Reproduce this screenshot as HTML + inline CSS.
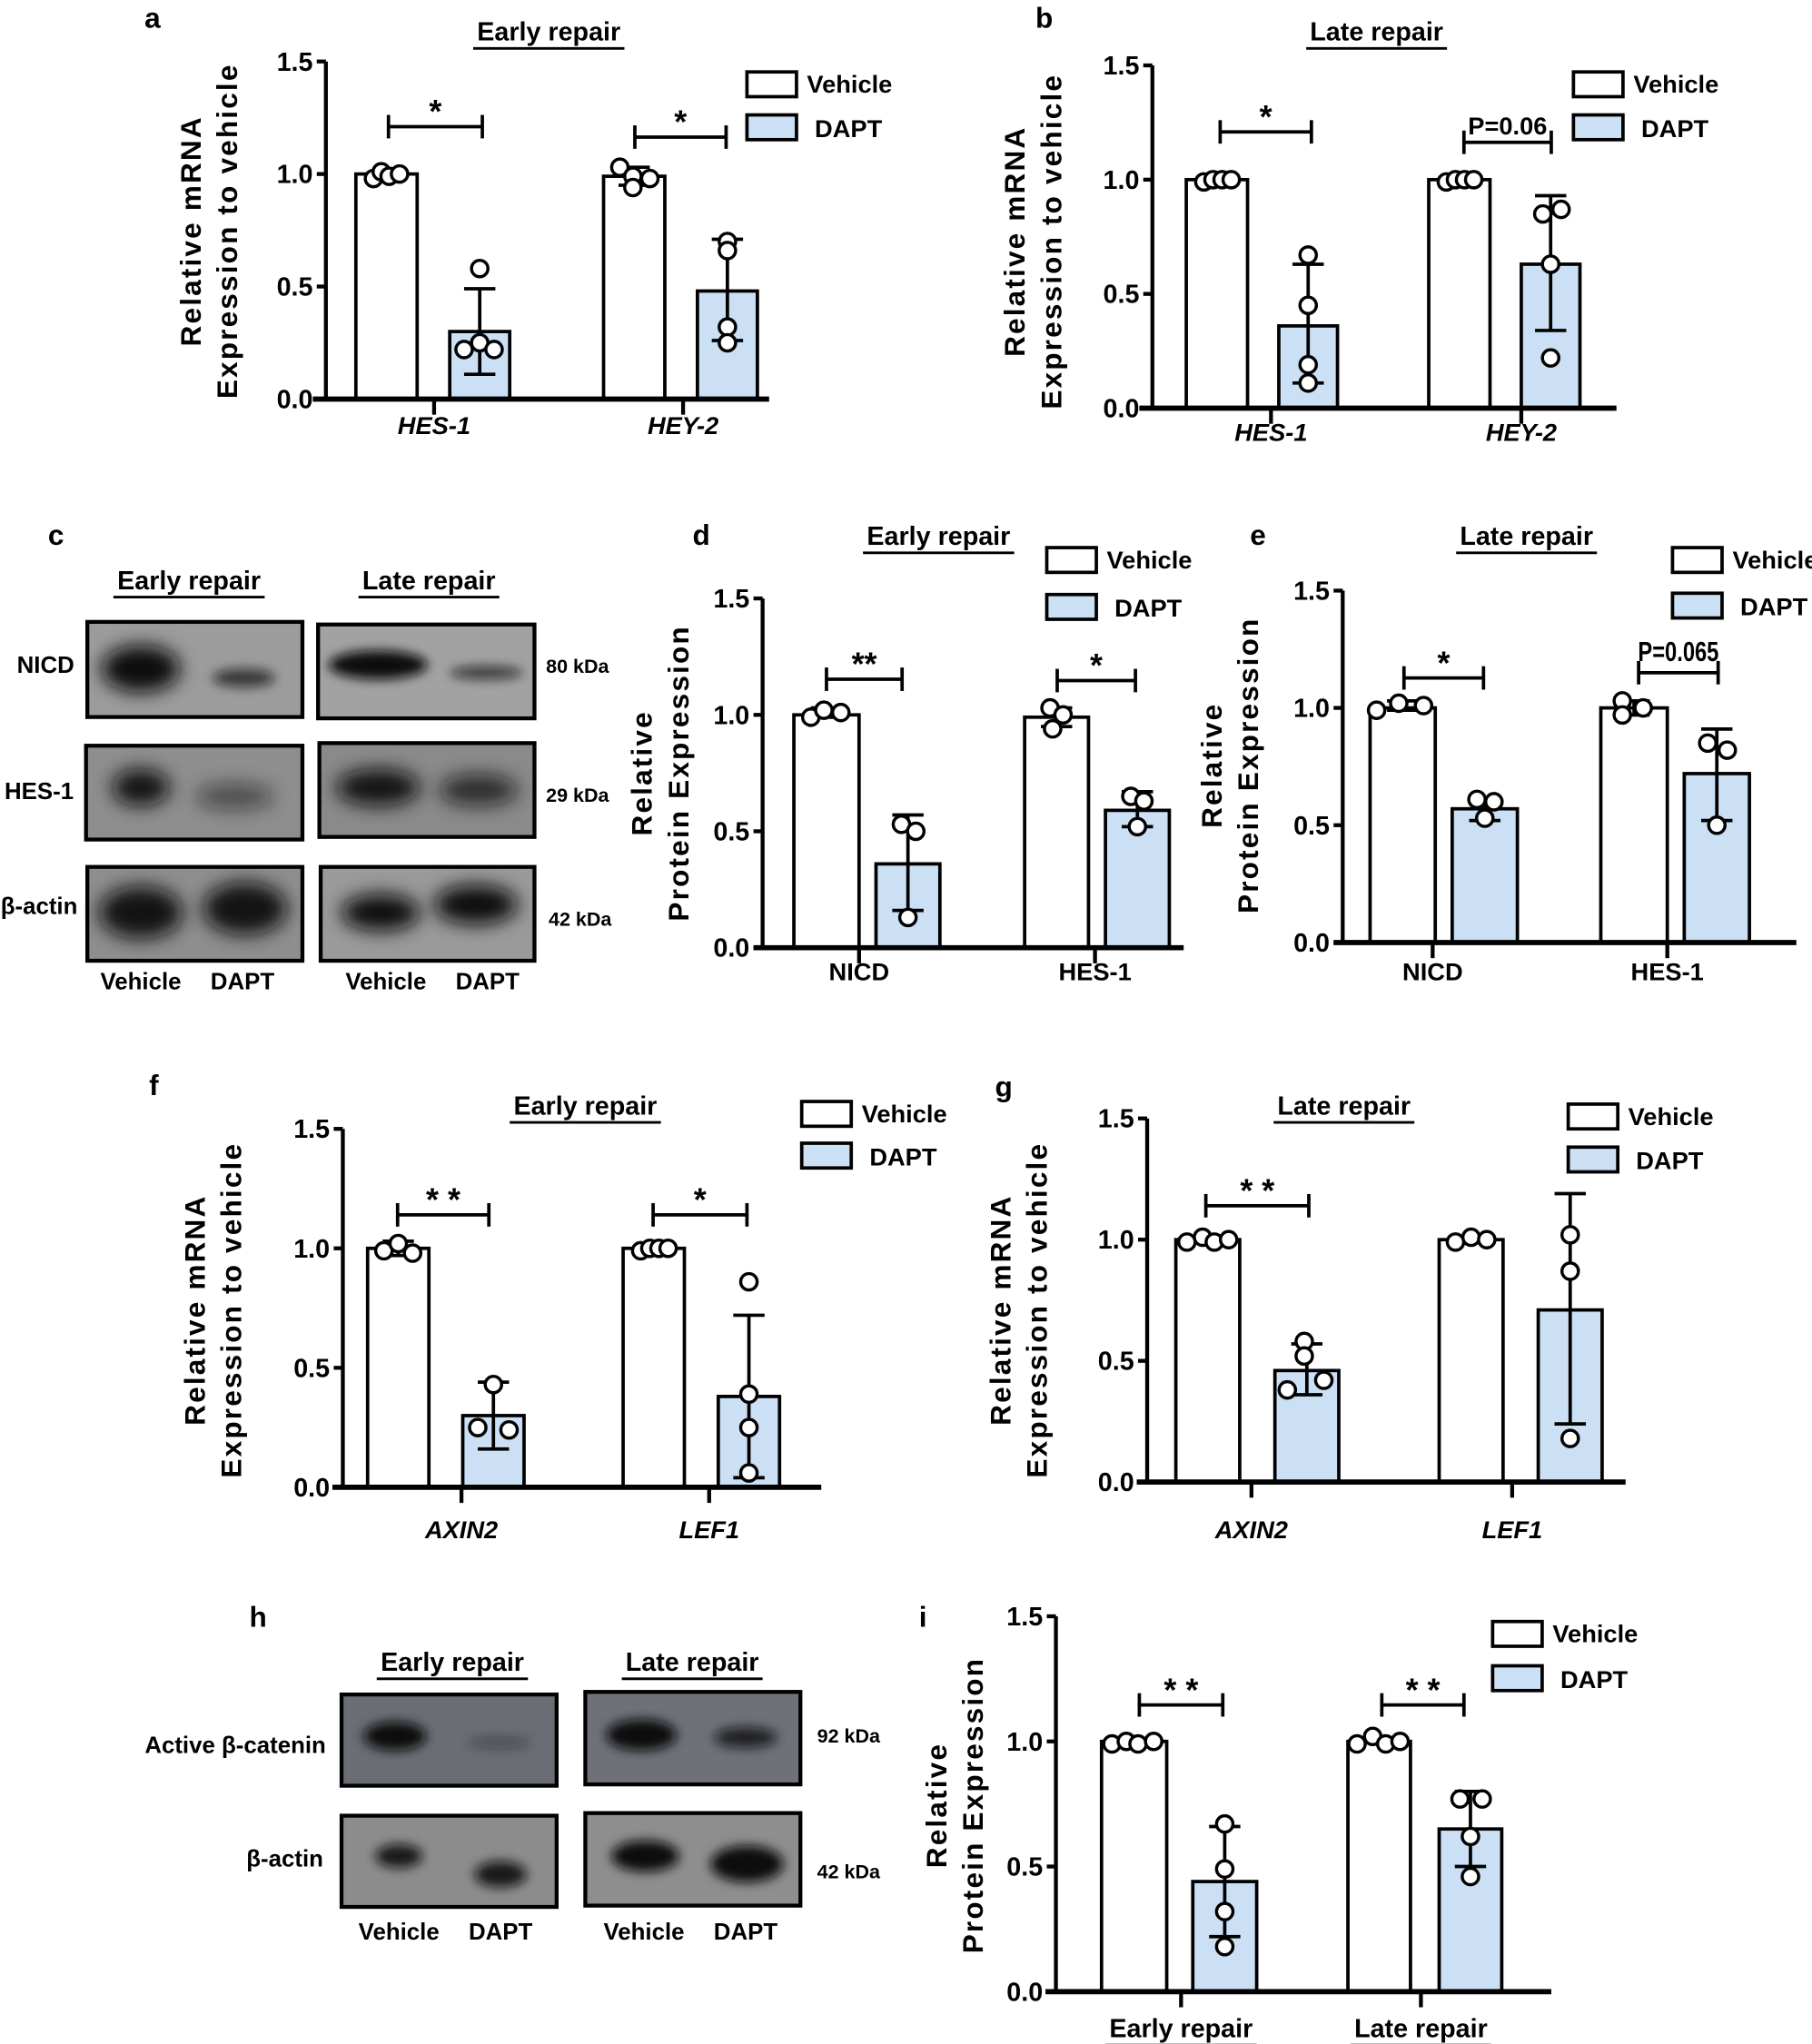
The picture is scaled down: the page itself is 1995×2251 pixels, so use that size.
<!DOCTYPE html>
<html><head><meta charset="utf-8">
<style>
html,body{margin:0;padding:0;background:#fff;}
svg{display:block;}
text{font-family:"Liberation Sans",Arial,sans-serif;font-weight:bold;fill:#000;}
</style></head>
<body>
<svg id="s" width="1995" height="2251" viewBox="0 0 1390 1568" xmlns="http://www.w3.org/2000/svg">
<defs>
<filter id="bl" x="-50%" y="-100%" width="200%" height="300%"><feGaussianBlur stdDeviation="7"/></filter>
<filter id="bl2" x="-50%" y="-100%" width="200%" height="300%"><feGaussianBlur stdDeviation="4"/></filter>
</defs>
</svg>
<script>
const S=document.getElementById('s');let h='';
const BLUE='#cce0f5';
function t(x,y,s,sz,o){o=o||{};h+=`<text x="${x}" y="${y}" font-size="${sz}" text-anchor="${o.a||'middle'}" ${o.i?'font-style="italic"':''} ${o.n?'font-weight="normal"':''} ${o.r?`transform="rotate(-90 ${x} ${y})"`:''} ${o.ls?`letter-spacing="${o.ls}"`:''} ${o.sx?`textLength="${o.sx}" lengthAdjust="spacingAndGlyphs"`:''}>${s}</text>`;}
function L(x1,y1,x2,y2,w){h+=`<line x1="${x1}" y1="${y1}" x2="${x2}" y2="${y2}" stroke="#000" stroke-width="${w||2.6}"/>`;}
function R(x,y,w,hh,f){h+=`<rect x="${x}" y="${y}" width="${w}" height="${hh}" fill="${f}" stroke="#000" stroke-width="2.6"/>`;}
function C(x,y){h+=`<circle cx="${x}" cy="${y}" r="6.3" fill="#fff" stroke="#000" stroke-width="2.4"/>`;}
function title(x,y,s,w){t(x,y,s,20,{});L(x-w/2,y+6,x+w/2,y+6,2);}
function panel(p){
 const Y=v=>p.y0-(p.y0-p.y15)*v/1.5;
 L(p.ax,p.y15,p.ax,p.y0+1,3);
 [0,0.5,1,1.5].forEach(v=>{L(p.ax-7,Y(v),p.ax,Y(v),3);t(p.ax-10,Y(v)+7,v.toFixed(1),20,{a:'end'});});
 p.bars.forEach(b=>{
  R(b.x,Y(b.v),b.w,Y(0)-Y(b.v),b.f?BLUE:'#fff');
  const cx=b.x+b.w/2;
  if(b.e){L(cx,Y(b.e[0]),cx,Y(b.e[1]),2.6);L(cx-12,Y(b.e[0]),cx+12,Y(b.e[0]),2.6);L(cx-12,Y(b.e[1]),cx+12,Y(b.e[1]),2.6);}
  (b.p||[]).forEach(q=>C(cx+q[0],Y(q[1])));
 });
 L(p.bx0,p.y0,p.bx1,p.y0,4);
 p.xt.forEach(q=>{L(q[0],p.y0,q[0],p.y0+12,3);t(q[0],p.xly,q[1],19,{i:p.it});});
 p.sig.forEach(s=>{L(s[0],s[2],s[1],s[2],2.6);L(s[0],s[2]-9,s[0],s[2]+9,2.6);L(s[1],s[2]-9,s[1],s[2]+9,2.6);
   if(s[3].startsWith('P=0.065'))t((s[0]+s[1])/2,s[2]-9,s[3],21,{n:1,sx:62});
   else if(s[3].startsWith('P='))t((s[0]+s[1])/2,s[2]-6,s[3],19,{});
   else t((s[0]+s[1])/2,s[2]-3,s[3],25,{});});
 R(p.lx,p.ly1,38,19,'#fff');R(p.lx,p.ly2,38,19,BLUE);
 t(p.lx+46,p.ly1+16,'Vehicle',19,{a:'start'});t(p.lx+52,p.ly2+17,'DAPT',19,{a:'start'});
 t(p.yl[0],p.yl[2],p.yl[3],22,{r:1,ls:1.5});t(p.yl[1],p.yl[2],p.yl[4],22,{r:1,ls:1.5});
}
// a
t(117,21,'a',22);title(421,31,'Early repair',116);
panel({ax:250,y15:47,y0:306,bx0:240,bx1:590,it:1,xly:333,
 bars:[{x:273,w:47,v:1.0,p:[[-10,0.98],[-4,1.01],[2,0.99],[10,1.0]]},{x:345,w:46,v:0.30,f:1,e:[0.11,0.49],p:[[0,0.58],[-12,0.22],[0,0.25],[11,0.22]]},
  {x:463,w:47,v:0.99,e:[0.95,1.03],p:[[-11,1.03],[-1,0.99],[-1,0.94],[12,0.98]]},{x:535,w:46,v:0.48,f:1,e:[0.26,0.71],p:[[0,0.70],[0,0.66],[0,0.32],[0,0.25]]}],
 xt:[[333,'HES-1'],[524,'HEY-2']],sig:[[298,370,97,'*'],[487,557,105,'*']],
 lx:573,ly1:55,ly2:88,yl:[154,182,177,'Relative mRNA','Expression to vehicle']});
// b
t(801,21,'b',22);title(1056,31,'Late repair',108);
panel({ax:884,y15:50,y0:313,bx0:874,bx1:1240,it:1,xly:338,
 bars:[{x:910,w:47,v:1.0,p:[[-10,0.99],[-3,1.0],[4,1.0],[11,1.0]]},{x:981,w:45,v:0.36,f:1,e:[0.11,0.63],p:[[0,0.67],[0,0.45],[0,0.19],[0,0.11]]},
  {x:1096,w:47,v:1.0,p:[[-10,0.99],[-3,1.0],[4,1.0],[11,1.0]]},{x:1167,w:45,v:0.63,f:1,e:[0.34,0.93],p:[[-6,0.85],[8,0.87],[0,0.63],[0,0.22]]}],
 xt:[[975,'HES-1'],[1167,'HEY-2']],sig:[[936,1006,101,'*'],[1123,1190,109,'P=0.06']],
 lx:1207,ly1:55,ly2:88,yl:[786,814,185,'Relative mRNA','Expression to vehicle']});
// c blots
t(43,418,'c',22);title(145,452,'Early repair',116);title(329,452,'Late repair',108);
function blot(x,y,w,hh,bg,bands){h+=`<rect x="${x}" y="${y}" width="${w}" height="${hh}" fill="${bg}" stroke="#000" stroke-width="3"/>`;
 bands.forEach(b=>{h+=`<ellipse cx="${b[0]}" cy="${b[1]}" rx="${b[2]}" ry="${b[3]}" fill="#111" opacity="${b[4]}" filter="url(#${b[5]||'bl'})"/>`;});}
blot(67,477,165,73,'#9c9c9c',[[108,513,30,18,1],[187,520,24,7,0.7,'bl2']]);
blot(244,479,166,72,'#a2a2a2',[[290,510,38,11,1,'bl2'],[373,516,28,5,0.7,'bl2']]);
blot(66,572,166,72,'#8e8e8e',[[108,604,22,14,0.95],[180,611,30,10,0.5]]);
blot(245,570,165,72,'#8a8a8a',[[290,604,32,14,0.95],[367,606,30,12,0.75]]);
blot(67,665,165,72,'#8e8e8e',[[108,700,32,20,0.95],[188,697,32,20,0.95]]);
blot(246,665,164,72,'#9a9a9a',[[292,700,30,14,1],[365,694,32,15,1]]);
t(35,516,'NICD',18);t(30,613,'HES-1',18);t(30,701,'β-actin',18);
t(443,516,'80 kDa',15);t(443,615,'29 kDa',15);t(445,710,'42 kDa',15);
t(108,759,'Vehicle',18);t(186,759,'DAPT',18);t(296,759,'Vehicle',18);t(374,759,'DAPT',18);
// d
t(538,418,'d',22);title(720,418,'Early repair',116);
panel({ax:585,y15:459,y0:727,bx0:578,bx1:908,xly:752,
 bars:[{x:609,w:50,v:1.0,e:[0.99,1.03],p:[[-12,0.99],[-2,1.02],[11,1.01]]},{x:672,w:49,v:0.36,f:1,e:[0.16,0.57],p:[[-5,0.53],[6,0.5],[0,0.13]]},
  {x:786,w:49,v:0.99,e:[0.95,1.03],p:[[-5,1.03],[5,1.0],[-3,0.94]]},{x:848,w:49,v:0.59,f:1,e:[0.52,0.67],p:[[-5,0.65],[5,0.63],[0,0.52]]}],
 xt:[[659,'NICD'],[840,'HES-1']],sig:[[634,692,521,'**'],[811,871,522,'*']],
 lx:803,ly1:420,ly2:456,yl:[500,528,593,'Relative','Protein Expression']});
// e
t(965,418,'e',22);title(1171,418,'Late repair',108);
panel({ax:1030,y15:453,y0:723,bx0:1023,bx1:1378,xly:752,
 bars:[{x:1051,w:50,v:1.0,e:[0.99,1.03],p:[[-20,0.99],[-3,1.02],[16,1.01]]},{x:1114,w:50,v:0.57,f:1,e:[0.52,0.61],p:[[-6,0.61],[7,0.6],[0,0.53]]},
  {x:1228,w:51,v:1.0,e:[0.97,1.03],p:[[-9,1.03],[-9,0.97],[7,1.0]]},{x:1292,w:50,v:0.72,f:1,e:[0.52,0.91],p:[[-7,0.85],[8,0.82],[0,0.5]]}],
 xt:[[1099,'NICD'],[1279,'HES-1']],sig:[[1077,1138,520,'*'],[1257,1318,516,'P=0.065']],
 lx:1283,ly1:420,ly2:455,yl:[937,965,587,'Relative','Protein Expression']});
// f
t(118,840,'f',22);title(449,855,'Early repair',116);
panel({ax:263,y15:866,y0:1141,bx0:255,bx1:630,it:1,xly:1180,
 bars:[{x:282,w:47,v:1.0,e:[0.97,1.03],p:[[-11,0.99],[0,1.02],[11,0.98]]},{x:355,w:47,v:0.30,f:1,e:[0.16,0.44],p:[[0,0.43],[-12,0.25],[12,0.24]]},
  {x:478,w:47,v:1.0,p:[[-10,0.99],[-3,1.0],[4,1.0],[11,1.0]]},{x:551,w:47,v:0.38,f:1,e:[0.04,0.72],p:[[0,0.86],[0,0.39],[0,0.25],[0,0.06]]}],
 xt:[[354,'AXIN2'],[544,'LEF1']],sig:[[305,375,932,'* *'],[501,573,932,'*']],
 lx:615,ly1:845,ly2:877,yl:[157,185,1005,'Relative mRNA','Expression to vehicle']});
// g
t(770,841,'g',22);title(1031,855,'Late repair',108);
panel({ax:880,y15:858,y0:1137,bx0:872,bx1:1247,it:1,xly:1180,
 bars:[{x:902,w:49,v:1.0,p:[[-16,0.99],[-4,1.01],[5,0.99],[16,1.0]]},{x:978,w:49,v:0.46,f:1,e:[0.36,0.57],p:[[-2,0.58],[-2,0.52],[13,0.42],[-15,0.38]]},
  {x:1104,w:49,v:1.0,p:[[-12,0.99],[0,1.01],[12,1.0]]},{x:1180,w:49,v:0.71,f:1,e:[0.24,1.19],p:[[0,1.02],[0,0.87],[0,0.18]]}],
 xt:[[960,'AXIN2'],[1160,'LEF1']],sig:[[925,1004,925,'* *']],
 lx:1203,ly1:847,ly2:880,yl:[775,803,1005,'Relative mRNA','Expression to vehicle']});
// h
t(198,1248,'h',22);title(347,1282,'Early repair',116);title(531,1282,'Late repair',108);
blot(262,1300,165,70,'#6a6d74',[[303,1332,24,11,1,'bl2'],[383,1337,24,4,0.35,'bl2']]);
blot(449,1298,165,71,'#6e7178',[[492,1331,27,12,1,'bl2'],[572,1333,24,8,0.8,'bl2']]);
blot(262,1393,165,70,'#8c8c8c',[[306,1424,18,9,0.9,'bl2'],[384,1438,20,10,0.9,'bl2']]);
blot(449,1391,165,71,'#8e8e8e',[[495,1424,26,12,1,'bl2'],[573,1430,28,14,1,'bl2']]);
t(250,1345,'Active β-catenin',18,{a:'end'});t(248,1432,'β-actin',18,{a:'end'});
t(651,1337,'92 kDa',15);t(651,1441,'42 kDa',15);
t(306,1488,'Vehicle',18);t(384,1488,'DAPT',18);t(494,1488,'Vehicle',18);t(572,1488,'DAPT',18);
// i
t(708,1248,'i',22);
panel({ax:810,y15:1240,y0:1528,bx0:802,bx1:1190,xly:1700,
 bars:[{x:845,w:50,v:1.0,p:[[-17,0.99],[-6,1.0],[3,0.99],[15,1.0]]},{x:915,w:49,v:0.44,f:1,e:[0.22,0.66],p:[[0,0.67],[0,0.49],[0,0.32],[0,0.18]]},
  {x:1034,w:48,v:1.0,p:[[-17,0.99],[-5,1.02],[5,0.99],[16,1.0]]},{x:1104,w:48,v:0.65,f:1,e:[0.50,0.80],p:[[-8,0.77],[9,0.77],[0,0.62],[0,0.46]]}],
 xt:[[906,''],[1090,'']],sig:[[874,938,1308,'* *'],[1060,1123,1308,'* *']],
 lx:1145,ly1:1244,ly2:1278,yl:[726,754,1385,'Relative','Protein Expression']});
title(906,1563,'Early repair',116);title(1090,1563,'Late repair',108);
S.insertAdjacentHTML('beforeend',h);
</script>
</body></html>
